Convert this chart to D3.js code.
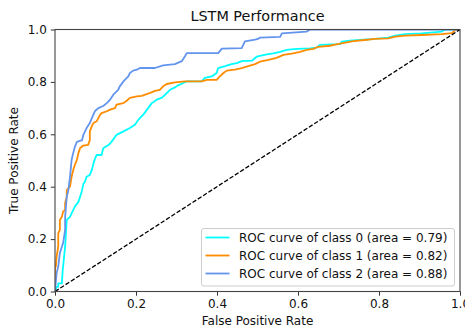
<!DOCTYPE html>
<html><head><meta charset="utf-8">
<script src="https://cdn.jsdelivr.net/npm/d3@7"></script>
<style>body{margin:0;background:#fff;} svg{display:block;font-family:"DejaVu Sans",sans-serif;}</style>
</head><body>
<svg id="c" width="465" height="330"></svg>
<script>
const title = "LSTM Performance";
const xLabel = "False Positive Rate";
const yLabel = "True Positive Rate";
const ticks = [0, 0.2, 0.4, 0.6, 0.8, 1.0];
const tickLabels = ["0.0", "0.2", "0.4", "0.6", "0.8", "1.0"];
const seriesNames = ["ROC curve of class 0 (area = 0.79)", "ROC curve of class 1 (area = 0.82)", "ROC curve of class 2 (area = 0.88)"];
const seriesColors = ["#00ffff", "#ff8c00", "#6495ed"];
// [fpr, tpr] pairs
const class0 = [[0,0],[0.004,0.018],[0.008,0.018],[0.008,0.031],[0.017,0.031],[0.019,0.082],[0.02,0.095],[0.025,0.171],[0.029,0.273],[0.037,0.285],[0.041,0.298],[0.049,0.324],[0.058,0.343],[0.062,0.362],[0.066,0.381],[0.07,0.41],[0.074,0.419],[0.078,0.438],[0.086,0.445],[0.091,0.464],[0.095,0.489],[0.099,0.508],[0.103,0.521],[0.115,0.521],[0.119,0.547],[0.132,0.559],[0.14,0.572],[0.152,0.598],[0.169,0.611],[0.185,0.624],[0.198,0.637],[0.206,0.656],[0.218,0.675],[0.23,0.7],[0.239,0.719],[0.251,0.732],[0.263,0.739],[0.272,0.751],[0.284,0.77],[0.296,0.779],[0.304,0.787],[0.317,0.796],[0.325,0.802],[0.362,0.802],[0.37,0.815],[0.387,0.821],[0.399,0.834],[0.403,0.853],[0.42,0.86],[0.436,0.868],[0.449,0.872],[0.461,0.879],[0.486,0.881],[0.498,0.896],[0.523,0.905],[0.539,0.909],[0.556,0.915],[0.572,0.922],[0.597,0.926],[0.63,0.928],[0.646,0.931],[0.654,0.941],[0.704,0.944],[0.708,0.954],[0.728,0.957],[0.753,0.96],[0.79,0.964],[0.823,0.969],[0.84,0.977],[0.864,0.982],[0.905,0.985],[0.955,0.992],[0.963,1],[1,1]];
const class1 = [[0,0],[0,0.1],[0.002,0.095],[0.004,0.133],[0.008,0.171],[0.008,0.222],[0.012,0.235],[0.012,0.273],[0.017,0.285],[0.02,0.305],[0.025,0.311],[0.025,0.338],[0.029,0.362],[0.029,0.387],[0.037,0.4],[0.041,0.438],[0.045,0.464],[0.049,0.483],[0.054,0.502],[0.058,0.529],[0.062,0.548],[0.07,0.557],[0.082,0.56],[0.086,0.578],[0.086,0.611],[0.091,0.631],[0.095,0.643],[0.103,0.65],[0.107,0.662],[0.111,0.673],[0.115,0.681],[0.128,0.688],[0.136,0.694],[0.148,0.7],[0.152,0.713],[0.169,0.719],[0.177,0.728],[0.185,0.739],[0.202,0.745],[0.214,0.747],[0.235,0.758],[0.247,0.766],[0.259,0.77],[0.267,0.783],[0.276,0.792],[0.296,0.798],[0.321,0.802],[0.362,0.802],[0.375,0.808],[0.399,0.808],[0.407,0.821],[0.416,0.834],[0.424,0.843],[0.444,0.847],[0.461,0.853],[0.477,0.86],[0.494,0.868],[0.506,0.877],[0.527,0.884],[0.547,0.892],[0.564,0.903],[0.588,0.909],[0.605,0.915],[0.621,0.922],[0.638,0.926],[0.65,0.934],[0.679,0.938],[0.695,0.943],[0.72,0.951],[0.737,0.956],[0.765,0.96],[0.79,0.964],[0.823,0.966],[0.84,0.973],[0.864,0.977],[0.905,0.979],[0.955,0.982],[0.98,0.986],[0.988,0.998],[1,1]];
const class2 = [[0,0],[0.004,0.071],[0.008,0.095],[0.012,0.147],[0.02,0.185],[0.025,0.235],[0.025,0.284],[0.029,0.361],[0.033,0.387],[0.037,0.437],[0.041,0.502],[0.045,0.529],[0.049,0.552],[0.054,0.571],[0.067,0.578],[0.07,0.598],[0.078,0.624],[0.086,0.643],[0.091,0.662],[0.099,0.689],[0.107,0.7],[0.119,0.708],[0.128,0.719],[0.136,0.732],[0.144,0.751],[0.156,0.77],[0.16,0.783],[0.169,0.802],[0.181,0.821],[0.185,0.834],[0.193,0.843],[0.202,0.847],[0.21,0.853],[0.247,0.853],[0.267,0.863],[0.296,0.868],[0.313,0.879],[0.321,0.898],[0.325,0.91],[0.403,0.91],[0.412,0.927],[0.461,0.929],[0.469,0.955],[0.494,0.961],[0.501,0.964],[0.506,0.969],[0.556,0.972],[0.56,0.985],[0.621,0.992],[0.63,1],[1,1]];
const diagonal = [[0,0],[1,1]];

const svg = d3.select("#c");
const L = 55, R = 460, T = 29.5, B = 291.5;
const x = d3.scaleLinear().domain([0, 1]).range([L, R]);
const y = d3.scaleLinear().domain([0, 1]).range([B, T]);

svg.append("defs").append("clipPath").attr("id","clip")
  .append("rect").attr("x", L).attr("y", T).attr("width", R-L).attr("height", B-T);

const line = d3.line().x(d => x(d[0])).y(d => y(d[1]));
const plot = svg.append("g").attr("clip-path","url(#clip)");
[class0, class1, class2].forEach((s, i) => {
  plot.append("path").datum(s).attr("d", line).attr("fill","none")
    .attr("stroke", seriesColors[i]).attr("stroke-width", 1.8).attr("stroke-linejoin","round");
});
plot.append("path").datum(diagonal).attr("d", line).attr("fill","none")
  .attr("stroke","#000").attr("stroke-width",1.3).attr("stroke-dasharray","4.4,1.9");

// axes
const xAxis = d3.axisBottom(x).tickValues(ticks).tickFormat((d,i)=>tickLabels[i]).tickSize(4.2).tickPadding(4);
const yAxis = d3.axisLeft(y).tickValues(ticks).tickFormat((d,i)=>tickLabels[i]).tickSize(4.2).tickPadding(4);
const gx = svg.append("g").attr("transform",`translate(0,${B})`).call(xAxis);
const gy = svg.append("g").attr("transform",`translate(${L},0)`).call(yAxis);
[gx, gy].forEach(g => {
  g.select(".domain").remove();
  g.selectAll(".tick line").attr("stroke","#333").attr("stroke-width",1);
  g.selectAll(".tick text").attr("fill","#111").style("font-size","12px").style("font-family","DejaVu Sans");
});
// frame
svg.append("rect").attr("x",L).attr("y",T).attr("width",R-L).attr("height",B-T)
  .attr("fill","none").attr("stroke","#444").attr("stroke-width",1.1);

svg.append("text").attr("x",(L+R)/2).attr("y",21).attr("text-anchor","middle")
  .style("font-size","14.4px").attr("fill","#111").text(title);
svg.append("text").attr("x",(L+R)/2).attr("y",325).attr("text-anchor","middle")
  .style("font-size","12px").attr("fill","#111").text(xLabel);
svg.append("text").attr("transform",`translate(18,${(T+B)/2}) rotate(-90)`).attr("text-anchor","middle")
  .style("font-size","12px").attr("fill","#111").text(yLabel);

// legend
const lg = svg.append("g");
lg.append("rect").attr("x",201.5).attr("y",228.5).attr("width",253).attr("height",57.5)
  .attr("rx",2.5).attr("fill","#fff").attr("fill-opacity",0.8).attr("stroke","#ccc").attr("stroke-width",1);
seriesNames.forEach((name, i) => {
  const cy = 237.5 + i*18;
  lg.append("line").attr("x1",205.5).attr("x2",229.5).attr("y1",cy).attr("y2",cy)
    .attr("stroke",seriesColors[i]).attr("stroke-width",1.8);
  lg.append("text").attr("x",239).attr("y",cy).attr("dy","0.36em")
    .style("font-size","12px").attr("fill","#111").text(name);
});
</script>
</body></html>
